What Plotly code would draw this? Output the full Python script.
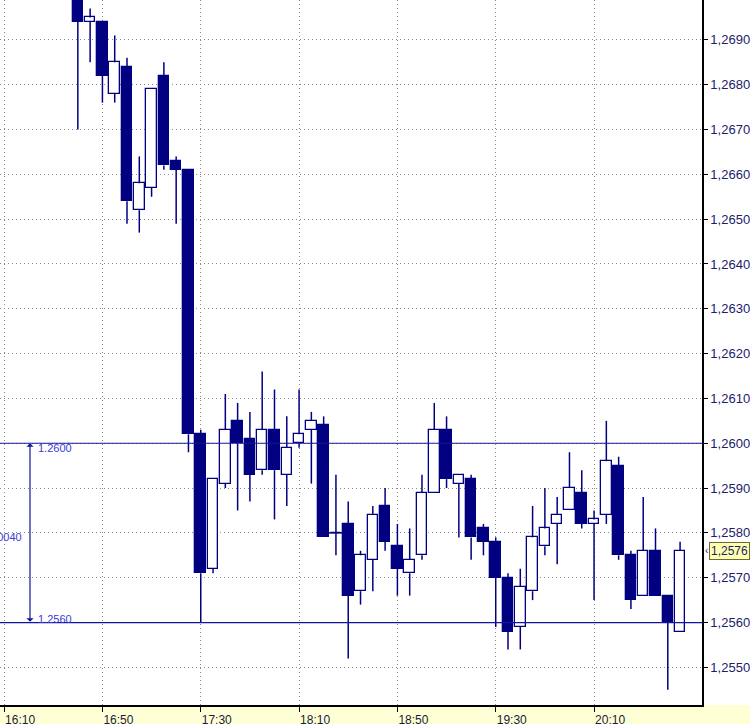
import plotly.graph_objects as go

# 5-minute bars (day part only, date is arbitrary)
times = ["16:40", "16:45", "16:50", "16:55", "17:00", "17:05", "17:10", "17:15", "17:20", "17:25",
         "17:30", "17:35", "17:40", "17:45", "17:50", "17:55", "18:00", "18:05", "18:10", "18:15",
         "18:20", "18:25", "18:30", "18:35", "18:40", "18:45", "18:50", "18:55", "19:00", "19:05",
         "19:10", "19:15", "19:20", "19:25", "19:30", "19:35", "19:40", "19:45", "19:50", "19:55",
         "20:00", "20:05", "20:10", "20:15", "20:20", "20:25", "20:30", "20:35", "20:40", "20:45"]
opens = [1.2705, 1.2694, 1.2694, 1.2678, 1.2684, 1.2652, 1.2657, 1.2682, 1.2663, 1.2661,
         1.2602, 1.2572, 1.2591, 1.2605, 1.2601, 1.2594, 1.2603, 1.2593, 1.2600, 1.2603,
         1.2604, 1.2580, 1.2582, 1.2567, 1.2574, 1.2586, 1.2577, 1.2571, 1.2575, 1.2589,
         1.2603, 1.2591, 1.2592, 1.2581, 1.2578, 1.2570, 1.2559, 1.2567, 1.2577, 1.2582,
         1.2585, 1.2589, 1.2582, 1.2584, 1.2595, 1.2575, 1.2566, 1.2576, 1.2566, 1.2558]
highs = [1.2706, 1.2697, 1.2694, 1.2691, 1.2686, 1.2664, 1.2679, 1.2685, 1.2664, 1.2661,
         1.2603, 1.2592, 1.2611, 1.2609, 1.2607, 1.2616, 1.2612, 1.2606, 1.2612, 1.2607,
         1.2606, 1.2593, 1.2587, 1.2576, 1.2586, 1.2590, 1.2582, 1.2581, 1.2593, 1.2609,
         1.2606, 1.2593, 1.2593, 1.2582, 1.2579, 1.2571, 1.2572, 1.2586, 1.2590, 1.2588,
         1.2598, 1.2594, 1.2585, 1.2605, 1.2597, 1.2576, 1.2588, 1.2581, 1.2566, 1.2578]
lows = [1.2670, 1.2685, 1.2676, 1.2676, 1.2649, 1.2647, 1.2655, 1.2661, 1.2649, 1.2598,
        1.2560, 1.2571, 1.2590, 1.2585, 1.2587, 1.2593, 1.2583, 1.2586, 1.2599, 1.2591,
        1.2579, 1.2575, 1.2552, 1.2564, 1.2567, 1.2576, 1.2566, 1.2566, 1.2574, 1.2589,
        1.2590, 1.2579, 1.2574, 1.2575, 1.2559, 1.2554, 1.2554, 1.2565, 1.2575, 1.2573,
        1.2585, 1.2581, 1.2565, 1.2582, 1.2574, 1.2563, 1.2566, 1.2566, 1.2545, 1.2558]
closes = [1.2694, 1.2695, 1.2682, 1.2685, 1.2654, 1.2658, 1.2679, 1.2662, 1.2661, 1.2602,
          1.2571, 1.2592, 1.2603, 1.2600, 1.2593, 1.2603, 1.2594, 1.2599, 1.2602, 1.2605,
          1.2579, 1.2580, 1.2566, 1.2575, 1.2584, 1.2578, 1.2572, 1.2574, 1.2589, 1.2603,
          1.2592, 1.2593, 1.2579, 1.2578, 1.2570, 1.2558, 1.2568, 1.2579, 1.2581, 1.2584,
          1.2590, 1.2582, 1.2583, 1.2596, 1.2575, 1.2565, 1.2576, 1.2566, 1.2560, 1.2576]

time_ticks = ["16:10", "16:50", "17:30", "18:10", "18:50", "19:30", "20:10"]

level_hi = 1.2600
level_lo = 1.2560
last_price = 1.2576

DAY = "2024-01-05 "
NAVY = "#000080"
LINE_BLUE = "#14149c"
BAR_MS = 5 * 60 * 1000

xs = [DAY + t for t in times]

# wicks only outside the body (plotly puts bars under scatter lines)
wx, wy = [], []
for x, o, h, l, c in zip(xs, opens, highs, lows, closes):
    top, bot = max(o, c), min(o, c)
    if h > top:
        wx += [x, x, None]
        wy += [top, h, None]
    if l < bot:
        wx += [x, x, None]
        wy += [l, bot, None]
wick = go.Scatter(x=wx, y=wy, mode="lines", line=dict(color=NAVY, width=1.5),
                  hoverinfo="skip", showlegend=False)

up = [c > o for o, c in zip(opens, closes)]
body = go.Bar(
    x=xs,
    base=[min(o, c) for o, c in zip(opens, closes)],
    y=[abs(c - o) for o, c in zip(opens, closes)],
    width=0.86 * BAR_MS,
    marker=dict(color=["white" if u else NAVY for u in up],
                line=dict(color=NAVY, width=1.3)),
    hoverinfo="skip", showlegend=False,
)

# open == close: flat tick
dx, dy = [], []
for x, o, c in zip(xs, opens, closes):
    if o == c:
        dx.append(x)
        dy.append(o)
doji = go.Scatter(x=dx, y=dy, mode="markers",
                  marker=dict(symbol="line-ew", size=11, line=dict(color=NAVY, width=1.5)),
                  hoverinfo="skip", showlegend=False)

fig = go.Figure([wick, body, doji])

# measurement lines
for lv in (level_hi, level_lo):
    fig.add_shape(type="line", xref="paper", x0=0, x1=1, yref="y", y0=lv, y1=lv,
                  line=dict(color=LINE_BLUE, width=1.2))

fig.add_annotation(xref="paper", yref="y", x=30 / 702, y=level_hi, axref="pixel", ayref="pixel",
                   ax=0, ay=180, text="", showarrow=True, arrowside="end+start",
                   arrowhead=1, startarrowhead=1, arrowsize=1, startarrowsize=1,
                   arrowwidth=1.2, arrowcolor=LINE_BLUE)
lab_font = dict(family="Arial", size=11, color="#3a3ad8")
fig.add_annotation(xref="paper", yref="y", x=36 / 702, y=level_hi, yshift=-5, text="1.2600",
                   showarrow=False, xanchor="left", font=lab_font)
fig.add_annotation(xref="paper", yref="y", x=36 / 702, y=level_lo, yshift=4, text="1.2560",
                   showarrow=False, xanchor="left", font=lab_font)
fig.add_annotation(xref="paper", yref="y", x=24 / 702, y=(level_hi + level_lo) / 2, yshift=-4,
                   text="0.0040", showarrow=False, xanchor="right", font=lab_font)

# last price marker on the price scale
fig.add_annotation(xref="paper", yref="y", x=1, xshift=7, y=last_price,
                   text="1,2576", showarrow=False, xanchor="left",
                   bgcolor="#ffffb0", bordercolor="#6b6b30", borderwidth=1, borderpad=1,
                   font=dict(family="Arial", size=12, color="#1c1c6c"))
fig.add_annotation(xref="paper", yref="y", x=1, xshift=1, y=last_price,
                   text="‹", showarrow=False, xanchor="left",
                   font=dict(family="Arial", size=10, color="#1c1c6c"))

# yellow time strip
fig.add_shape(type="rect", xref="paper", yref="paper", x0=0, x1=750 / 702,
              y0=-19 / 708, y1=0, fillcolor="#ffffd6", line=dict(width=0), layer="below")

fig.update_layout(
    width=750, height=727,
    margin=dict(l=0, r=48, t=0, b=19),
    paper_bgcolor="white", plot_bgcolor="white",
    separators=",.",
    bargap=0, hovermode=False,
    xaxis=dict(
        type="date",
        range=[DAY + "16:08:20", DAY + "20:53:55"],
        tickvals=[DAY + t for t in time_ticks], ticktext=time_ticks,
        showgrid=True, gridcolor="#8c8c8c", griddash="1px,3px", gridwidth=1,
        showline=True, linecolor="black", linewidth=1.5,
        ticks="outside", ticklen=5, tickcolor="black",
        ticklabelshift=16, ticklabelstandoff=-2,
        tickfont=dict(family="Arial", size=12, color="#1a1a3a"),
        zeroline=False,
    ),
    yaxis=dict(
        side="right", range=[1.25416, 1.26989],
        tick0=1.25, dtick=0.001, tickformat=".4f",
        showgrid=True, gridcolor="#8c8c8c", griddash="1px,3px", gridwidth=1,
        showline=True, linecolor="black", linewidth=1.5,
        ticks="outside", ticklen=4, tickcolor="black",
        tickfont=dict(family="Arial", size=13, color="#1c1c6c"),
        zeroline=False,
    ),
)

fig.write_html("out.html", config={"displayModeBar": False},
               post_script="document.body.style.margin='0';document.body.style.overflow='hidden';")
